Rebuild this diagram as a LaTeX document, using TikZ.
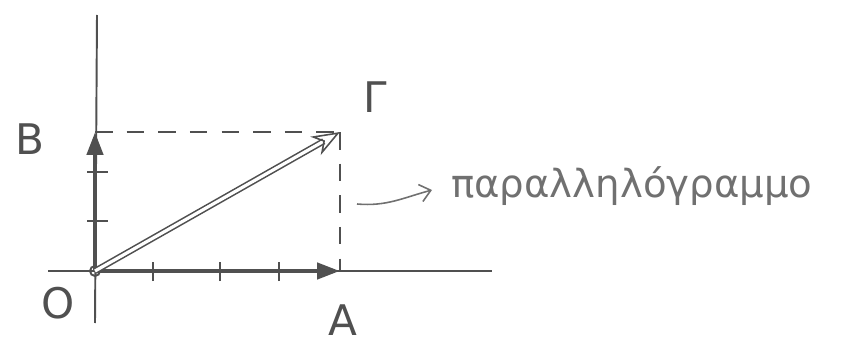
\documentclass[tikz,border=0pt]{standalone}
\usepackage{fontspec}
\setmainfont{DejaVu Sans}
\usepackage{xcolor}
\definecolor{pencil}{HTML}{505050}
\definecolor{pencillight}{HTML}{707070}
\usepackage{tikz}
\usetikzlibrary{
  arrows.meta,
  positioning
}

\begin{document}
\begin{tikzpicture}[
  x=0.02cm, y=0.02cm,
  axis/.style={pencil, line width=1.1pt},
  tickmark/.style={pencil, line width=0.9pt},
  vec/.style={-{Triangle[length=13pt, width=9pt]}, line width=2.6pt, pencil},
  sumvec/.style={-{Stealth[open, length=16pt, width=12pt, inset=5pt]}, pencil, line width=0.9pt, double=white, double distance=1.8pt},
  guide/.style={pencil, line width=0.9pt, dash pattern=on 10pt off 8pt},
  lbl/.style={font=\fontsize{24}{28}\selectfont, text=pencil},
  note/.style={font=\fontsize{22}{26}\selectfont, text=pencillight},
  pointer/.style={-{Straight Barb[length=6pt, width=10pt]}, pencillight, line width=0.9pt},
]
\useasboundingbox (0,0) rectangle (850,349);

\coordinate (O) at (95,78);
\coordinate (A) at (340,78);
\coordinate (B) at (95,217);
\coordinate (G) at (340,217);
\coordinate (xmin) at (48,78);
\coordinate (xmax) at (492,78);
\coordinate (ymin) at (95,26);
\coordinate (ymax) at (97,334);

% axes
\draw[axis] (xmin) -- (xmax);
\draw[axis] (ymin) -- (ymax);
\foreach \x in {153,220,279}
  \draw[tickmark] (\x,68) -- (\x,87);
\foreach \y in {128,177}
  \draw[tickmark] (87,\y) -- (108,\y);
\draw[axis] (O) circle (5);

% dashed sides
\draw[guide] (B) -- (G);
\draw[guide] (G) -- (A);

% vectors
\draw[vec] (O) -- (A);
\draw[vec] (O) -- (B);
\draw[sumvec] (O) -- (G);

\node[lbl] (lO) at (58,46) {O};
\node[lbl] (lA) at (343,29) {A};
\node[lbl] (lB) at (30,210) {B};
\node[lbl] (lG) at (375,252) {Γ};

% label of the figure
\coordinate (ps) at (357,145);
\coordinate (pe) at (432,159);
\node[note, anchor=base west] (par) at (445,152) {παραλληλόγραμμο};
\draw[pointer] (ps) to[out=-5, in=195] (pe);

\end{tikzpicture}
\end{document}
